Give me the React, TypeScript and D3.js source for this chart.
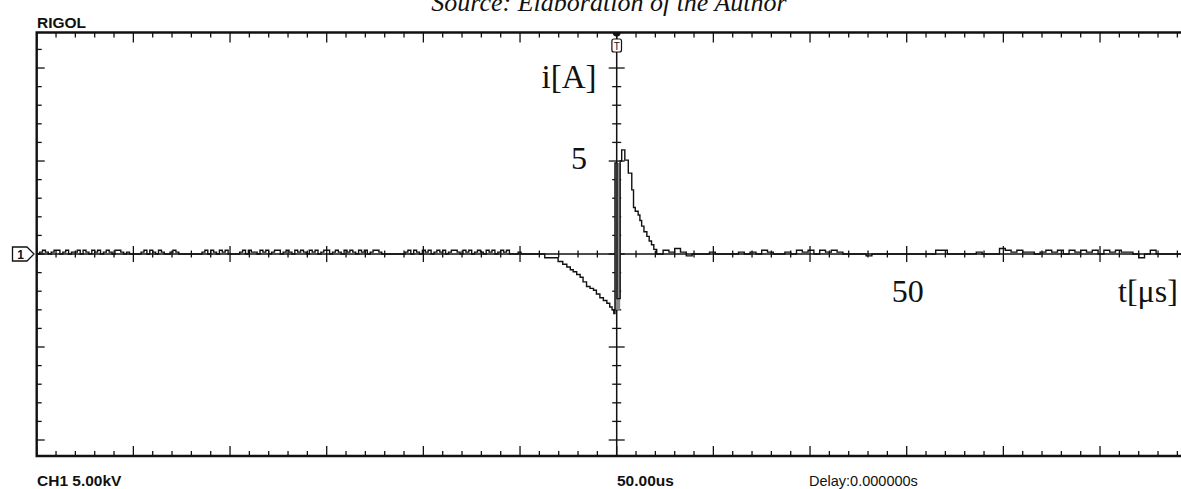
import React from "react";
import * as d3 from "d3";

// Oscilloscope capture of a current pulse (RIGOL screen).
// Time in µs (trigger at 0), current in A.

// Baseline before the pulse, 0.5 µs steps from -100 µs, in tenths of an ampere
const preNoise: number[] = [
  0, 1, 2, 1, 0, 1, 2, 2, 0, 1,
  2, 0, 1, 1, 2, 0, 2, 1, 0, 2,
  1, 2, 0, 1, 2, 1, 0, 2, 2, 1,
  0, 1, 0, 0, 0, 0, 1, 2, 0, 2,
  1, 0, 2, 1, 0, 0, 1, 2, 1, 0,
  0, 0, 0, 0, 0, 0, 0, 1, 2, 0,
  2, 1, 0, 2, 1, 2, 0, 0, 0, 0,
  1, 2, 0, 2, 1, 1, 0, 2, 1, 2,
  0, 1, 2, 2, 0, 1, 2, 1, 0, 2,
  1, 2, 1, 0, 2, 1, 2, 0, 1, 2,
  2, 0, 1, 2, 1, 0, 2, 1, 2, 1,
  0, 2, 1, 2, 0, 1, 2, 2, 1, 0,
  0, 0, 0, 0, 0, 0, 0, 1, 2, 0,
  2, 1, 0, 2, 1, 2, 0, 1, 2, 1,
  2, 0, 1, 2, 2, 1, 0, 2, 1, 2,
  0, 1, 2, 1, 0, 2, 1, 2, 0, 1,
  2, 1, 2, 0, 0, 0, 1, 0, 0, 0,
];
const preStart = -100;
const preStep = 0.5;

// The pulse itself: negative pre-discharge, fast rise, decay
const pulseTimes: number[] = [
  -15, -12.4, -10.1, -9.3, -8.6, -8.0, -7.5, -6.9, -6.3, -5.8, -5.2, -4.6, -4.0,
  -3.5, -2.9, -2.3, -1.7, -1.2, -0.8, -0.5, -0.3, 0.05, 0.6,
  0.86, 1.4, 2.0, 2.6, 2.9, 3.2, 3.7, 4.0, 4.3, 4.7, 5.2, 5.6, 6.0, 6.4, 6.9,
];
const pulseAmps: number[] = [
  0, -0.2, -0.4, -0.55, -0.7, -0.85, -0.95, -1.1, -1.25, -1.5, -1.75, -1.85, -1.95,
  -2.15, -2.35, -2.5, -2.65, -2.85, -3.0, -3.2, 4.9, -2.4, 5.0,
  5.6, 5.05, 4.35, 3.45, 2.5, 2.3, 2.1, 1.8, 1.5, 1.2, 0.95, 0.7, 0.5, 0.25, 0,
];

// Envelope of the fast ringing at the trigger instant
const burstTimes: number[] = [-0.3, 0.6];
const burstRange: number[] = [-3.0, 4.9];

// Baseline after the pulse, 1 µs steps from 7 µs, in tenths of an ampere
const postNoise: number[] = [
  0, 2, 1, 3, 1, -1, 0, 0, 0, 1, 0, 0, 0, 0, 1, 0, 1, 0, 2, 1,
  0, 0, 1, 0, 2, 1, 2, 0, 2, 1, 2, 1, 0, 0, 0, 0, -1, 0, 0, 0,
  0, 0, 0, 0, 0, 0, 0, 0, 2, 2, 0, 0, 0, 0, 0, 1, 0, 0, 0, 3,
  2, 1, 2, 1, 1, 0, 1, 2, 1, 2, 0, 2, 1, 2, 1, 2, 0, 2, 1, 2,
  1, 1, 0, -2, 0, 2, 0, 0, 0, 0, 0, 0, 0,
];
const postStart = 7;

// Axis annotations
const ampLabel = "5";
const ampLabelValue = 5;
const timeLabel = "50";
const timeLabelValue = 50;

const W = 1181;
const H = 489;
const LEFT = 36.7;
const RIGHT = 1196.7;
const TOP = 32.5;
const BOTTOM = 456;

export default function App() {
  const x = d3.scaleLinear().domain([-100, 100]).range([LEFT, RIGHT]);
  const y = d3.scaleLinear().domain([-10.86, 11.91]).range([BOTTOM, TOP]);

  const points: [number, number][] = [
    ...preNoise.map((v, i) => [preStart + i * preStep, v / 10] as [number, number]),
    ...pulseTimes.map((t, i) => [t, pulseAmps[i]] as [number, number]),
    ...postNoise.map((v, i) => [postStart + i, v / 10] as [number, number]),
    [100, 0],
  ];

  const line = d3
    .line<[number, number]>()
    .x((d) => x(d[0]))
    .y((d) => y(d[1]))
    .curve(d3.curveStepAfter);

  const timeTicks = d3.range(-30, 31).map((k) => ({ t: (k * 100) / 30, major: k % 5 === 0 }));
  const ampTicks = d3.range(-10, 12).map((k) => ({ a: k, major: k % 5 === 0 }));

  const x0 = x(0);
  const y0 = y(0);
  const ink = "#111";
  const sans = "'Liberation Sans', Arial, sans-serif";
  const serif = "'Liberation Serif', 'Times New Roman', serif";

  return (
    <svg
      width={W}
      height={H}
      style={{ position: "fixed", left: 0, top: 0, background: "#fff" }}
    >
      <rect x={0} y={0} width={W} height={H} fill="#fff" />

      {/* caption */}
      <text x={609} y={11} textAnchor="middle" fontFamily={serif} fontStyle="italic" fontSize={26} fill={ink}>
        Source: Elaboration of the Author
      </text>

      <text x={37} y={27.5} fontFamily={sans} fontWeight="bold" fontSize={15.5} fill={ink}>
        RIGOL
      </text>

      {/* frame */}
      <path
        d={`M${RIGHT},${TOP}H${LEFT}V${BOTTOM}H${RIGHT}`}
        fill="none"
        stroke={ink}
        strokeWidth={2.4}
      />

      {/* border ticks */}
      {timeTicks.map(({ t, major }, i) => (
        <g key={"bt" + i} stroke={ink} strokeWidth={1.3}>
          <line x1={x(t)} x2={x(t)} y1={TOP} y2={TOP + (major ? 10 : 5)} />
          <line x1={x(t)} x2={x(t)} y1={BOTTOM} y2={BOTTOM - (major ? 10 : 5)} />
        </g>
      ))}
      {ampTicks.map(({ a, major }, i) => (
        <line
          key={"lt" + i}
          x1={LEFT}
          x2={LEFT + (major ? 8 : 5)}
          y1={y(a)}
          y2={y(a)}
          stroke={ink}
          strokeWidth={1.3}
        />
      ))}

      {/* center axes */}
      <line x1={LEFT} x2={RIGHT} y1={y0} y2={y0} stroke={ink} strokeWidth={1.4} />
      <line x1={x0} x2={x0} y1={TOP} y2={BOTTOM} stroke={ink} strokeWidth={1.5} />
      {timeTicks.map(({ t, major }, i) => (
        <line
          key={"ct" + i}
          x1={x(t)}
          x2={x(t)}
          y1={y0 - (major ? 8 : 3.5)}
          y2={y0 + (major ? 8 : 3.5)}
          stroke={ink}
          strokeWidth={1.3}
        />
      ))}
      {ampTicks.map(({ a, major }, i) => (
        <line
          key={"ca" + i}
          x1={x0 - (major ? 8 : 4.5)}
          x2={x0 + (major ? 8 : 4.5)}
          y1={y(a)}
          y2={y(a)}
          stroke={ink}
          strokeWidth={1.3}
        />
      ))}

      {/* ringing envelope at the trigger */}
      <rect
        x={x(burstTimes[0])}
        width={x(burstTimes[1]) - x(burstTimes[0])}
        y={y(burstRange[1])}
        height={y(burstRange[0]) - y(burstRange[1])}
        fill="#8a8a8a"
      />

      {/* waveform */}
      <path d={line(points) ?? ""} fill="none" stroke={ink} strokeWidth={1.4} strokeLinejoin="miter" />

      {/* channel 1 marker */}
      <path
        d={`M12.5,${y0 - 7}H27L34,${y0}L27,${y0 + 7}H12.5Z`}
        fill="#fff"
        stroke={ink}
        strokeWidth={1.3}
      />
      <text x={20.5} y={y0 + 4.5} textAnchor="middle" fontFamily={sans} fontWeight="bold" fontSize={12} fill={ink}>
        1
      </text>

      {/* trigger marker */}
      <path d={`M${x0 - 4},${TOP}A4,4 0 0 0 ${x0 + 4},${TOP}Z`} fill={ink} />
      <rect x={x0 - 4.8} y={39} width={9.6} height={13} rx={2} fill="#fff" stroke={ink} strokeWidth={1.2} />
      <text x={x0} y={50} textAnchor="middle" fontFamily={sans} fontSize={10} fill={ink}>
        T
      </text>

      {/* engineering labels */}
      <text x={541.5} y={88} fontFamily={serif} fontSize={33} fill={ink}>
        i[A]
      </text>
      <text x={587} y={y(ampLabelValue) + 8} textAnchor="end" fontFamily={serif} fontSize={32} fill={ink}>
        {ampLabel}
      </text>
      <text x={x(timeLabelValue) - 15} y={301.7} fontFamily={serif} fontSize={32} fill={ink}>
        {timeLabel}
      </text>
      <text x={1118} y={301.7} fontFamily={serif} fontSize={32} fill={ink}>
        t[μs]
      </text>

      {/* status line */}
      <text x={37} y={486} fontFamily={sans} fontWeight="bold" fontSize={15.5} fill={ink}>
        CH1 5.00kV
      </text>
      <text x={617} y={486} fontFamily={sans} fontWeight="bold" fontSize={15.5} fill={ink}>
        50.00us
      </text>
      <text x={809} y={486} fontFamily={sans} fontSize={14.5} fill={ink}>
        Delay:0.000000s
      </text>
    </svg>
  );
}
